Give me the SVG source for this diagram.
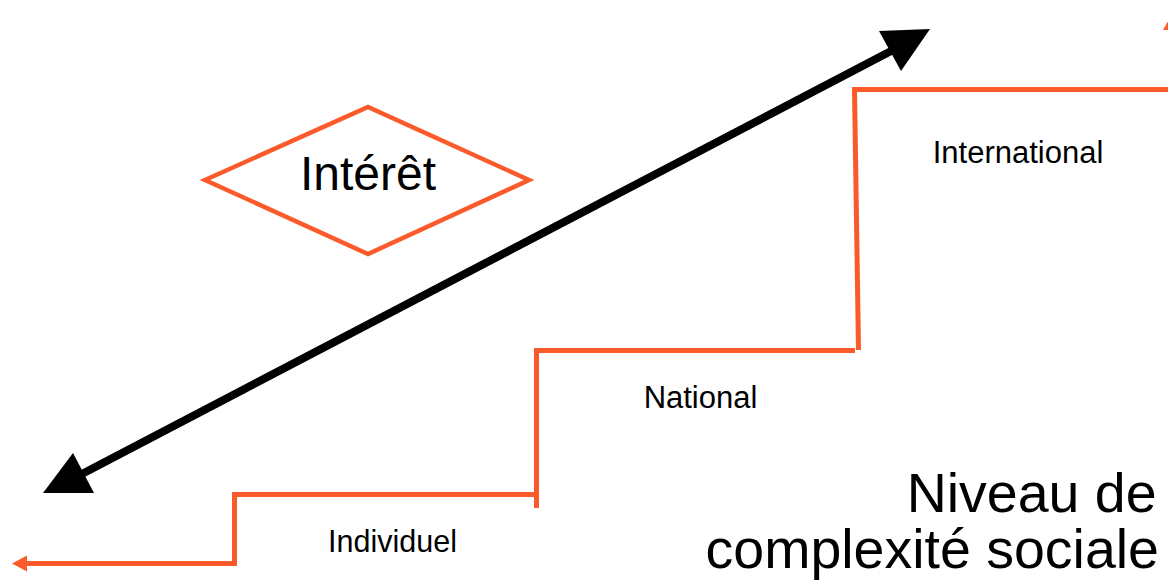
<svg xmlns="http://www.w3.org/2000/svg" width="1168" height="580" viewBox="0 0 1168 580">
  <style>
    .stair { fill: none; stroke: #FC5A2A; stroke-width: 5; stroke-linejoin: miter; }
    .orange { fill: #FC5A2A; }
    .axis { fill: none; stroke: #000000; stroke-width: 8; }
    .head { fill: #000000; }
    .lbl { font-family: "Liberation Sans", Arial, sans-serif; fill: #000000; }
  </style>
  <rect width="1168" height="580" fill="#ffffff"/>
  <g id="connectors">
    <!-- staircase -->
    <polyline class="stair" points="24,563.5 234.5,563.5 234.5,494.5 537,494.5"/>
    <polyline class="stair" points="536.5,508 536.5,350.5 855,350.5"/>
    <polyline class="stair" points="858.5,350 854.5,89.5 1168,89.5"/>
    <polygon class="orange" points="12,563.5 27,555.5 27,571.5"/>
    <polygon class="orange" points="1171,16 1163,30 1179,30"/>
    <!-- double-headed black arrow -->
    <line class="axis" x1="80" y1="475" x2="893" y2="50"/>
    <polygon class="head" points="930,29 879,31 901,71"/>
    <polygon class="head" points="43,493 73,453 94,493"/>
  </g>
  <g id="interet">
    <polygon points="205,180 368,107 529,180 368,254" fill="none" stroke="#FC5A2A" stroke-width="4.5"/>
    <text class="lbl" x="368" y="190" font-size="48" text-anchor="middle">Intérêt</text>
  </g>
  <g id="individuel">
    <text class="lbl" x="392.5" y="552" font-size="30.5" text-anchor="middle">Individuel</text>
  </g>
  <g id="national">
    <text class="lbl" x="700.5" y="408" font-size="31" text-anchor="middle">National</text>
  </g>
  <g id="international">
    <text class="lbl" x="1018" y="163" font-size="31" text-anchor="middle">International</text>
  </g>
  <g id="niveau">
    <text class="lbl" font-size="55.5" text-anchor="end">
      <tspan x="1172" y="512">Niveau de</tspan>
      <tspan x="1159" y="568">complexité sociale</tspan>
    </text>
  </g>
</svg>
